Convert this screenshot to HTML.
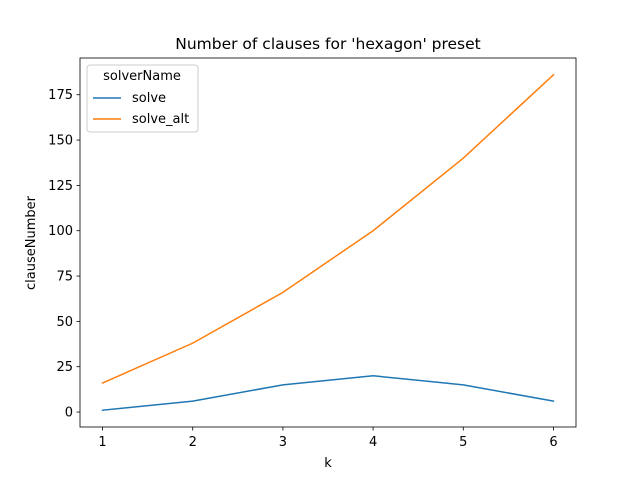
<!DOCTYPE html>
<html><head><meta charset="utf-8"><style>
body{margin:0;background:#fff;font-family:"Liberation Sans","DejaVu Sans",sans-serif}
svg text{font-family:"DejaVu Sans","Liberation Sans",sans-serif;fill:#000}
</style></head><body>
<svg id="chart" width="640" height="480" xmlns="http://www.w3.org/2000/svg">
<rect width="640" height="480" fill="#fff"/>
<text x="328" y="49" text-anchor="middle" font-size="15.5">Number of clauses for 'hexagon' preset</text>
<g id="axes"></g>
<text x="328" y="467" text-anchor="middle" font-size="13">k</text>
<text transform="translate(35,243) rotate(-90)" text-anchor="middle" font-size="13">clauseNumber</text>
<g>
<rect x="87" y="65" width="111" height="67" rx="3" fill="#fff" fill-opacity="0.8" stroke="#ccc"/>
<text x="142" y="80" text-anchor="middle" font-size="13">solverName</text>
<line x1="93" y1="98" x2="121" y2="98" stroke="#1f77b4" stroke-width="1.5"/>
<text x="132" y="102" font-size="13">solve</text>
<line x1="93" y1="119" x2="121" y2="119" stroke="#ff7f0e" stroke-width="1.5"/>
<text x="132" y="123" font-size="13">solve_alt</text>
</g>
</svg>
<script>
const categories=[1,2,3,4,5,6];
const solveValues=[1,6,15,20,15,6];
const solveAltValues=[16,38,66,100,140,186];
const yTicks=[0,25,50,75,100,125,150,175];
const L=80,R=576,T=58,B=427,xmin=0.75,xmax=6.25,ymin=-8.25,ymax=195.25;
const xs=v=>L+(v-xmin)/(xmax-xmin)*(R-L);
const ys=v=>B-(v-ymin)/(ymax-ymin)*(B-T);
const g=document.getElementById('axes');
const NS='http://www.w3.org/2000/svg';
function mk(t,a){const e=document.createElementNS(NS,t);for(const k in a)e.setAttribute(k,a[k]);g.appendChild(e);return e;}
categories.forEach(c=>{
  const l=mk('line',{x1:xs(c),x2:xs(c),y1:B,y2:B+3.5,stroke:'#000','stroke-width':0.8});
  
  
  const t=mk('text',{x:xs(c),y:B+19,'text-anchor':'middle','font-size':13});
  t.textContent=c;
  
  
});
yTicks.forEach(v=>{
  const l=mk('line',{x1:L-3.5,x2:L,y1:ys(v),y2:ys(v),stroke:'#000','stroke-width':0.8});
  
  
  const t=mk('text',{x:L-7,y:ys(v)+4.5,'text-anchor':'end','font-size':13});
  t.textContent=v;
  
  
});
function series(vals,color,name){
  const p=mk('polyline',{points:categories.map((c,i)=>xs(c)+','+ys(vals[i])).join(' '),fill:'none',stroke:color,'stroke-width':1.5,'stroke-linecap':'square'});
  
  
}
series(solveValues,'#1f77b4','line-solve');
series(solveAltValues,'#ff7f0e','line-solve-alt');
const f=mk('rect',{x:L,y:T,width:R-L,height:B-T,fill:'none',stroke:'#000','stroke-width':0.8});


</script>
</body></html>
